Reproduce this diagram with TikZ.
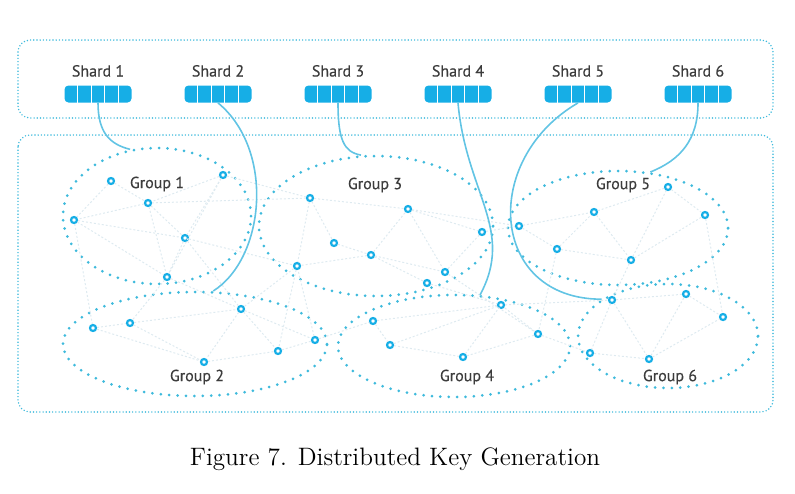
\documentclass[tikz,border=0pt]{standalone}
\usepackage{fontspec}
\usepackage{tikz}
\usetikzlibrary{positioning,calc,shapes.geometric}
\newfontfamily\labelfont[FakeBold=0.35]{PT Sans}
\definecolor{shardblue}{RGB}{22,174,230}
\definecolor{ringblue}{RGB}{62,186,220}
\definecolor{linkblue}{RGB}{98,196,228}
\definecolor{faintgray}{RGB}{222,234,240}
\definecolor{txtgray}{RGB}{60,60,60}

\begin{document}
\begin{tikzpicture}[x=0.5pt,y=-0.5pt,
  boxline/.style={draw=ringblue, line width=0.8pt, dash pattern=on 0pt off 1.6pt, line cap=round, rounded corners=6pt},
  groupring/.style={ellipse, draw=ringblue, line width=1.5pt, dash pattern=on 0pt off 4.2pt, line cap=round, inner sep=0pt},
  shardbox/.style={rectangle, fill=shardblue, rounded corners=2pt, minimum width=33.5pt, minimum height=8.5pt, inner sep=0pt},
  member/.style={circle, draw=shardblue, fill=white, line width=1.1pt, minimum size=3pt, inner sep=0pt},
  faint/.style={draw=faintgray, line width=0.5pt, dash pattern=on 1pt off 1pt},
  link/.style={draw=linkblue, line width=0.8pt},
  tag/.style={font=\labelfont\fontsize{8}{9.5}\selectfont, text=txtgray, inner sep=0pt}]
\useasboundingbox (0,0) rectangle (795,493);
\draw[boxline] (18,40) rectangle (773,118);
\draw[boxline] (18,135) rectangle (773,412);

\foreach \i in {1,...,6}{
  \node[shardbox] (s\i) at ({98+120*(\i-1)},94) {};
  \foreach \k in {1,...,4}
    \draw[white, line width=0.5pt] ($(s\i.north west)!\k/5!(s\i.north east)$) -- ($(s\i.south west)!\k/5!(s\i.south east)$);
  \node[tag, above=4pt of s\i] (t\i) {Shard \i};
}

\node[groupring, minimum width=94pt, minimum height=68pt] (G1) at (157,216) {};
\node[groupring, minimum width=132pt, minimum height=52pt] (G2) at (195,344) {};
\node[groupring, minimum width=117pt, minimum height=70pt] (G3) at (376,226) {};
\node[groupring, minimum width=116pt, minimum height=51pt] (G4) at (454,346) {};
\node[groupring, minimum width=110pt, minimum height=57pt] (G5) at (618,228) {};
\node[groupring, minimum width=90pt, minimum height=52pt] (G6) at (668,336) {};

\foreach \n/\x/\y in {g1a/111/181, g1b/148/203, g1c/74/220, g1d/185/238, g1e/167/277, g1f/223/175,
  g3a/310/198, g3b/334/243, g3c/371/255, g3d/297/266, g3e/408/209, g3f/482/232, g3g/445/272, g3h/427/283,
  g5a/519/226, g5b/557/249, g5c/594/212, g5d/631/260, g5e/668/187, g5f/705/215,
  g2a/93/328, g2b/130/323, g2c/241/309, g2d/204/362, g2e/278/351, g2f/315/340,
  g4a/373/321, g4b/390/345, g4c/463/357, g4d/538/334, g4e/501/305,
  g6a/612/300, g6b/686/294, g6c/723/317, g6d/590/353, g6e/649/359}
  \node[member] (\n) at (\x,\y) {};

\foreach \a/\b in {g1a/g1b, g1b/g1c, g1b/g1d, g1c/g1d, g1c/g1e, g1d/g1e, g1b/g1e, g1a/g1c, g1f/g1b, g1f/g1d,
  g1f/g1e, g1d/g3d, g1f/g3a, g1c/g2a, g1e/g2c, g1e/g2b, g1d/g2c,
  g3a/g3b, g3a/g3d, g3a/g3e, g3b/g3c, g3c/g3d, g3c/g3e, g3e/g3f, g3e/g3g, g3c/g3g, g3c/g3h, g3f/g3g,
  g3d/g2c, g3d/g2e, g3h/g4e, g3g/g4d, g3f/g5a, g3e/g5a, g3a/g1b,
  g5a/g5b, g5b/g5c, g5c/g5d, g5c/g5e, g5d/g5e, g5d/g5f, g5e/g5f, g5a/g5c, g5b/g5d, g5f/g6c, g5d/g6a, g5b/g4d,
  g2a/g2b, g2b/g2c, g2c/g2d, g2c/g2e, g2d/g2e, g2e/g2f, g2b/g2d, g2a/g2d, g2f/g4a, g2f/g3d, g2c/g2f,
  g4a/g4b, g4b/g4c, g4c/g4d, g4a/g4e, g4b/g4e, g4d/g4e, g4c/g4e, g4d/g6d, g4e/g6a,
  g6a/g6b, g6b/g6c, g6a/g6d, g6a/g6e, g6d/g6e, g6e/g6c, g6e/g6b}
  \draw[faint] (\a) -- (\b);

\draw[link] (s1.south) .. controls +(0,30) and +(-20,-5) .. (G1.112);
\draw[link] (s2.south) .. controls +(57,47) and +(52,-33) .. (G2.71);
\draw[link] (s3.south) .. controls +(0,37) and +(-17,-3) .. (G3.102);
\draw[link] (s4.south) .. controls +(8,90) and +(35,-65) .. (G4.63);
\draw[link] (s5.south) .. controls +(-98,57) and +(-112,0) .. (G6.151);
\draw[link] (s6.south) .. controls +(0,37) and +(30,-12) .. (G5.60);

\node[tag] (l1) at (157,184) {Group 1};
\node[tag] (l2) at (197,377) {Group 2};
\node[tag] (l3) at (375,185) {Group 3};
\node[tag] (l4) at (467,377) {Group 4};
\node[tag] (l5) at (623,185) {Group 5};
\node[tag] (l6) at (670,377) {Group 6};

\node (cap) at (395,459) {\fontsize{12.6}{15}\selectfont Figure 7. Distributed Key Generation};
\end{tikzpicture}
\end{document}
